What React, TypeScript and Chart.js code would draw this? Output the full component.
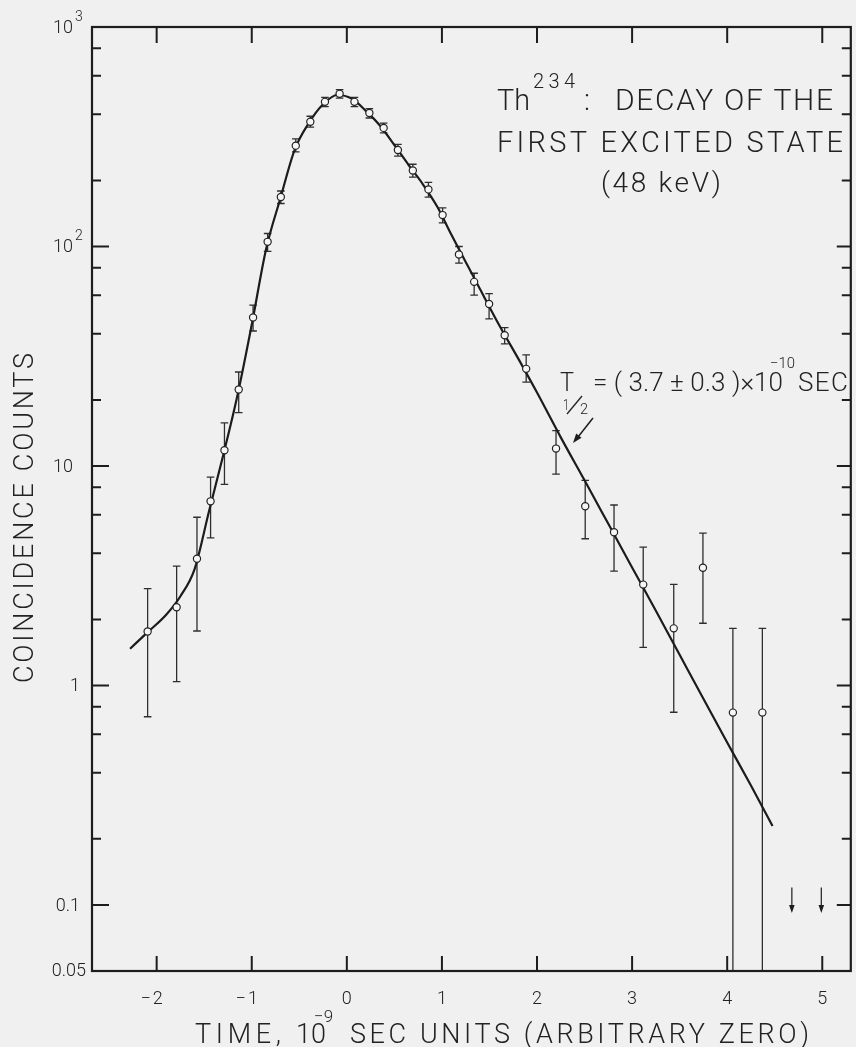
import React, { useEffect, useRef } from "react";
import { Chart, registerables } from "chart.js";

Chart.register(...registerables);

// Measured data points (time in 1e-9 s, coincidence counts)
const dataX = [-2.095, -1.79, -1.576, -1.433, -1.287, -1.137, -0.986, -0.833, -0.694, -0.537, -0.384, -0.23, -0.076, 0.08, 0.237, 0.387, 0.537, 0.694, 0.858, 1.007, 1.179, 1.339, 1.496, 1.66, 1.886, 2.2, 2.507, 2.81, 3.117, 3.438, 3.745, 4.06, 4.37];
const dataY = [1.76, 2.27, 3.78, 6.9, 11.8, 22.3, 47.5, 105, 168, 288, 370, 456, 496, 456, 406, 347, 275, 222, 182, 139, 92, 69, 54.7, 39.4, 27.7, 12.0, 6.55, 4.99, 2.88, 1.82, 3.44, 0.752, 0.752];
const errHigh = [2.76, 3.5, 5.84, 8.9, 15.7, 26.8, 54, 114.6, 179, 309, 392, 478, 518, 478, 425, 365, 292, 237, 196, 150, 100, 75.5, 61, 42.7, 32.1, 14.5, 8.6, 6.64, 4.27, 2.89, 4.94, 1.82, 1.82];
const errLow = [0.72, 1.04, 1.77, 4.7, 8.24, 17.5, 41.2, 95, 157, 270, 350, 434, 474, 434, 385, 329, 258, 207, 168, 128, 84, 60, 46.8, 36, 24.1, 9.18, 4.66, 3.32, 1.49, 0.755, 1.92, 0.01, 0.01];

// Fitted curve
const curveX = [-2.28, -2.1, -1.9, -1.75, -1.6, -1.45, -1.3, -1.15, -1.0, -0.85, -0.7, -0.55, -0.4, -0.25, -0.1, 0.05, 0.2, 0.35, 0.5, 0.65, 0.8, 0.95, 1.1, 1.25, 1.4, 1.6, 1.8, 2.0, 2.25, 2.5, 2.75, 3.0, 3.25, 3.5, 3.75, 4.0, 4.25, 4.477];
const curveY = [1.47, 1.74, 2.1, 2.55, 3.4, 6.2, 11.2, 21, 44, 97, 165, 275, 365, 445, 490, 472, 415, 355, 290, 235, 192, 152, 113, 85, 64, 44, 31, 21.6, 13.5, 8.6, 5.45, 3.45, 2.19, 1.38, 0.87, 0.55, 0.35, 0.229];

// Upper limits (zero counts) shown as down arrows
const limitX = [4.68, 4.99];
const limitTop = [0.12, 0.12];
const limitBottom = [0.092, 0.092];

// Axis ticks
const xTicks = [-2, -1, 0, 1, 2, 3, 4, 5];
const xTickLabels = ["\u22122", "\u22121", "0", "1", "2", "3", "4", "5"];
const yMajor = [0.1, 1, 10, 100, 1000];
const yMajorText = ["0.1", "1", "10", "10", "10"];
const yMajorSup = ["", "", "", "2", "3"];
const yMinor = [0.2, 0.4, 0.6, 0.8, 2, 4, 6, 8, 20, 40, 60, 80, 200, 400, 600, 800];
const yBottomText = "0.05";

const FONT = '"Roboto", "DejaVu Sans", sans-serif';
const INK = "#1d1d1d";
const TEXT = "#222222";

function fit(ctx: CanvasRenderingContext2D, text: string, x: number, y: number, w: number, size: number) {
  ctx.save();
  ctx.font = `300 ${size}px ${FONT}`;
  (ctx as any).letterSpacing = "0px";
  const m = ctx.measureText(text).width || 1;
  ctx.textAlign = "left";
  ctx.textBaseline = "alphabetic";
  ctx.fillStyle = TEXT;
  const n = text.length;
  if (n > 1 && w > m) {
    const ls = (w - m) / (n - 1);
    (ctx as any).letterSpacing = `${ls}px`;
    ctx.fillText(text, x, y);
  } else {
    ctx.translate(x, y);
    ctx.scale(w / m, 1);
    ctx.fillText(text, 0, 0);
  }
  ctx.restore();
}

const bgPlugin = {
  id: "bg",
  beforeDraw(chart: any) {
    const ctx = chart.ctx;
    ctx.save();
    ctx.fillStyle = "#f0f0f0";
    ctx.fillRect(0, 0, chart.width, chart.height);
    ctx.restore();
  },
};

const errPlugin = {
  id: "errbars",
  beforeDatasetsDraw(chart: any) {
    const { ctx, chartArea: a, scales } = chart;
    const xs = scales.x, ys = scales.y;
    ctx.save();
    ctx.beginPath();
    ctx.rect(a.left, a.top, a.right - a.left, a.bottom - a.top);
    ctx.clip();
    ctx.strokeStyle = "#2e2e2e";
    ctx.lineWidth = 1.3;
    const cap = 3.8;
    for (let i = 0; i < dataX.length; i++) {
      const px = xs.getPixelForValue(dataX[i]);
      const ph = ys.getPixelForValue(errHigh[i]);
      const plRaw = ys.getPixelForValue(errLow[i]);
      const pl = Math.min(plRaw, a.bottom);
      ctx.beginPath();
      ctx.moveTo(px, ph);
      ctx.lineTo(px, pl);
      ctx.moveTo(px - cap, ph);
      ctx.lineTo(px + cap, ph);
      if (plRaw <= a.bottom) {
        ctx.moveTo(px - cap, pl);
        ctx.lineTo(px + cap, pl);
      }
      ctx.stroke();
    }
    // upper-limit arrows
    ctx.fillStyle = INK;
    for (let i = 0; i < limitX.length; i++) {
      const px = xs.getPixelForValue(limitX[i]);
      const pt = ys.getPixelForValue(limitTop[i]);
      const pb = ys.getPixelForValue(limitBottom[i]);
      ctx.beginPath();
      ctx.moveTo(px, pt);
      ctx.lineTo(px, pb - 6);
      ctx.stroke();
      ctx.beginPath();
      ctx.moveTo(px - 2.8, pb - 8);
      ctx.lineTo(px + 2.8, pb - 8);
      ctx.lineTo(px, pb);
      ctx.closePath();
      ctx.fill();
    }
    ctx.restore();
  },
};

const framePlugin = {
  id: "frame",
  afterDraw(chart: any) {
    const { ctx, chartArea: a, scales } = chart;
    const xs = scales.x, ys = scales.y;
    ctx.save();
    ctx.strokeStyle = INK;
    ctx.lineCap = "butt";
    // ticks
    ctx.lineWidth = 2;
    ctx.beginPath();
    for (const t of xTicks) {
      const px = xs.getPixelForValue(t);
      ctx.moveTo(px, a.bottom);
      ctx.lineTo(px, a.bottom - 15);
      ctx.moveTo(px, a.top);
      ctx.lineTo(px, a.top + 16);
    }
    for (const v of yMajor) {
      const py = ys.getPixelForValue(v);
      ctx.moveTo(a.left, py);
      ctx.lineTo(a.left + 17, py);
      ctx.moveTo(a.right, py);
      ctx.lineTo(a.right - 14, py);
    }
    for (const v of yMinor) {
      const py = ys.getPixelForValue(v);
      ctx.moveTo(a.left, py);
      ctx.lineTo(a.left + 9, py);
      ctx.moveTo(a.right, py);
      ctx.lineTo(a.right - 9, py);
    }
    ctx.stroke();
    // frame
    ctx.lineWidth = 2.2;
    ctx.strokeRect(a.left, a.top, a.right - a.left, a.bottom - a.top);

    // x tick labels
    ctx.fillStyle = TEXT;
    ctx.font = `300 18px ${FONT}`;
    (ctx as any).letterSpacing = "2px";
    ctx.textAlign = "center";
    ctx.textBaseline = "alphabetic";
    xTicks.forEach((t, i) => {
      const px = xs.getPixelForValue(t);
      const lbl = xTickLabels[i];
      const off = lbl.startsWith("\u2212") ? -4 : 1;
      ctx.fillText(lbl, px + off, a.bottom + 33);
    });
    (ctx as any).letterSpacing = "0px";

    // y tick labels
    ctx.textAlign = "right";
    yMajor.forEach((v, i) => {
      const py = ys.getPixelForValue(v);
      const txt = yMajorText[i];
      const sup = yMajorSup[i];
      const right = txt === "10" ? a.left - 19 : a.left - 12;
      ctx.font = `300 18px ${FONT}`;
      ctx.fillText(txt, right, py + 6);
      if (sup) {
        ctx.textAlign = "left";
        ctx.font = `300 14px ${FONT}`;
        ctx.fillText(sup, right + 2, py - 6);
        ctx.textAlign = "right";
      }
    });
    ctx.font = `300 18px ${FONT}`;
    ctx.fillText(yBottomText, a.left - 6, ys.getPixelForValue(0.05) + 5);

    // y axis title
    ctx.save();
    ctx.translate(33, 683);
    ctx.rotate(-Math.PI / 2);
    fit(ctx, "COINCIDENCE COUNTS", 0, 0, 330, 27);
    ctx.restore();

    // x axis title
    fit(ctx, "TIME,", 195, 1043, 86, 27);
    fit(ctx, "10", 296, 1043, 30, 27);
    fit(ctx, "\u22129", 314, 1022, 19, 17);
    fit(ctx, "SEC UNITS (ARBITRARY ZERO)", 350, 1043, 459, 27);

    // title annotation
    fit(ctx, "Th", 497, 110, 33, 30);
    fit(ctx, "234", 533, 88, 42, 20);
    fit(ctx, ":", 584, 110, 6, 30);
    fit(ctx, "DECAY OF THE", 615, 110, 218, 30);
    fit(ctx, "FIRST EXCITED STATE", 497, 152, 346, 29);
    fit(ctx, "(48 keV)", 601, 192, 120, 28);

    // half-life annotation
    fit(ctx, "T", 560, 391, 14, 26);
    fit(ctx, "1", 563, 410, 6, 15);
    fit(ctx, "2", 580, 414, 8, 15);
    ctx.lineWidth = 1.3;
    ctx.strokeStyle = TEXT;
    ctx.beginPath();
    ctx.moveTo(567, 414);
    ctx.lineTo(582, 396);
    ctx.stroke();
    fit(ctx, "= ( 3.7 \u00b1 0.3 )\u00d710", 593, 391, 190, 26);
    fit(ctx, "\u221210", 770, 368, 25, 15);
    fit(ctx, "SEC", 798, 391, 50, 26);

    // arrow to the curve
    ctx.strokeStyle = INK;
    ctx.fillStyle = INK;
    ctx.lineWidth = 1.5;
    ctx.beginPath();
    ctx.moveTo(593, 418);
    ctx.lineTo(578, 437);
    ctx.stroke();
    const ang = Math.atan2(443 - 418, 573 - 593);
    ctx.beginPath();
    ctx.moveTo(573, 443);
    ctx.lineTo(573 - 10 * Math.cos(ang - 0.35), 443 - 10 * Math.sin(ang - 0.35));
    ctx.lineTo(573 - 10 * Math.cos(ang + 0.35), 443 - 10 * Math.sin(ang + 0.35));
    ctx.closePath();
    ctx.fill();
    ctx.restore();
  },
};

export default function App() {
  const ref = useRef<HTMLCanvasElement | null>(null);
  useEffect(() => {
    if (!ref.current) return;
    const chart = new Chart(ref.current, {
      type: "scatter",
      data: {
        datasets: [
          {
            type: "line",
            label: "fit",
            data: curveX.map((x, i) => ({ x, y: curveY[i] })),
            borderColor: "#1c1c1c",
            borderWidth: 2.2,
            pointRadius: 0,
            cubicInterpolationMode: "monotone",
            fill: false,
            order: 2,
          } as any,
          {
            type: "scatter",
            label: "data",
            data: dataX.map((x, i) => ({ x, y: dataY[i] })),
            pointRadius: 3.6,
            pointBackgroundColor: "#f6f6f6",
            pointBorderColor: "#222",
            pointBorderWidth: 1.2,
            order: 1,
          } as any,
        ],
      },
      options: {
        animation: false,
        responsive: true,
        maintainAspectRatio: false,
        devicePixelRatio: 1,
        layout: { padding: { left: 92, top: 27, right: 1, bottom: 76 } },
        plugins: { legend: { display: false }, tooltip: { enabled: false } },
        scales: {
          x: { type: "linear", min: -2.68, max: 5.3, display: false },
          y: { type: "logarithmic", min: 0.05, max: 1000, display: false },
        },
      },
      plugins: [bgPlugin, errPlugin, framePlugin],
    });
    return () => chart.destroy();
  }, []);
  return (
    <div style={{ position: "fixed", left: 0, top: 0, width: 856, height: 1047 }}>
      <canvas ref={ref} />
    </div>
  );
}
